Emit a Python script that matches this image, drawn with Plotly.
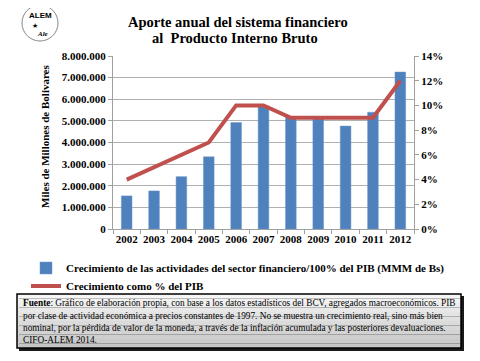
import plotly.graph_objects as go

years = ["2002", "2003", "2004", "2005", "2006", "2007", "2008", "2009", "2010", "2011", "2012"]
sector_values = [1530000, 1760000, 2420000, 3340000, 4920000, 5690000, 5190000, 5150000, 4760000, 5400000, 7260000]
pct_pib = [0.04, 0.05, 0.06, 0.07, 0.10, 0.10, 0.09, 0.09, 0.09, 0.09, 0.12]
left_ticks = [0, 1000000, 2000000, 3000000, 4000000, 5000000, 6000000, 7000000, 8000000]
left_tick_labels = ["0", "1.000.000", "2.000.000", "3.000.000", "4.000.000", "5.000.000", "6.000.000", "7.000.000", "8.000.000"]
right_ticks = [0, 0.02, 0.04, 0.06, 0.08, 0.10, 0.12, 0.14]
right_tick_labels = ["0%", "2%", "4%", "6%", "8%", "10%", "12%", "14%"]
note_lines = [
    "<b>Fuente</b>: Gráfico de elaboración propia, con base a los datos estadísticos del BCV, agregados macroeconómicos. PIB",
    "por clase de actividad económica a precios constantes de 1997. No se muestra un crecimiento real, sino más bien",
    "nominal, por la pérdida de valor de la moneda, a través de la inflación acumulada y las posteriores devaluaciones.",
    "CIFO-ALEM 2014.",
]

# page body has an 8px margin; lay out in reference pixels and shift by it
OFF = 8
W, H = 480 - OFF, 361 - OFF
REF_L, REF_R, REF_T, REF_B = 113, 414, 56, 229
L, T = REF_L - OFF, REF_T - OFF
R, B = W - (REF_R - OFF), H - (REF_B - OFF)
PW, PH = W - L - R, H - T - B

def px(x):
    return (x - REF_L) / PW

def py(y):
    return (REF_B - y) / PH

def cx(x):
    return (x - OFF) / W

def cy(y):
    return 1 - (y - OFF) / H

SERIF = "Times New Roman"
BOLD11 = dict(family=SERIF, size=11, color="black", weight="bold")

fig = go.Figure()
fig.add_trace(go.Bar(
    x=years, y=sector_values,
    name="Crecimiento de las actividades del sector financiero/100% del PIB (MMM de Bs)",
    marker=dict(color="#4f81bd", line=dict(color="#6b98cf", width=0.5)),
    yaxis="y", legend="legend",
))
fig.add_trace(go.Scatter(
    x=years, y=pct_pib, mode="lines",
    name="Crecimiento como % del PIB",
    line=dict(color="#c0504d", width=4),
    yaxis="y2", legend="legend2",
))

legend_common = dict(
    xref="container", yref="container", xanchor="left", yanchor="middle",
    orientation="v", itemwidth=30, font=BOLD11, bgcolor="rgba(0,0,0,0)",
)

fig.update_layout(
    width=W, height=H,
    margin=dict(l=L, r=R, t=T, b=B, pad=0, autoexpand=False),
    paper_bgcolor="white", plot_bgcolor="white",
    bargap=0.61,
    font=dict(family=SERIF, size=11, color="black"),
    showlegend=True,
    legend=dict(x=cx(26), y=cy(268), **legend_common),
    legend2=dict(x=cx(26), y=cy(286), **legend_common),
    xaxis=dict(
        type="category", showgrid=False, showline=True, linecolor="#a0a0a0", linewidth=1,
        ticks="outside", ticklen=4, tickcolor="#a0a0a0", tickson="boundaries",
        tickfont=BOLD11, tickangle=0, automargin=False,
    ),
    yaxis=dict(
        range=[0, 8000000], tickvals=left_ticks, ticktext=left_tick_labels,
        showgrid=True, gridcolor="#b0b0b0", gridwidth=1,
        showline=True, linecolor="#a0a0a0", ticks="outside", ticklen=4, tickcolor="#a0a0a0",
        tickfont=BOLD11, zeroline=False, automargin=False,
    ),
    yaxis2=dict(
        range=[0, 0.14], tickvals=right_ticks, ticktext=right_tick_labels,
        overlaying="y", side="right", showgrid=False,
        showline=True, linecolor="#a0a0a0", ticks="outside", ticklen=4, tickcolor="#a0a0a0",
        tickfont=BOLD11, zeroline=False, automargin=False,
    ),
)

annotations = [
    dict(text="Aporte anual del sistema financiero", x=px(238), y=py(22),
         font=dict(family=SERIF, size=14.5, weight="bold")),
    dict(text="al  Producto Interno Bruto", x=px(235), y=py(38),
         font=dict(family=SERIF, size=14.5, weight="bold")),
    dict(text="Miles de Millones de Bolivares", x=px(45), y=py(136), textangle=-90,
         font=dict(family=SERIF, size=11, weight="bold")),
    dict(text="ALEM", x=px(40), y=py(16), font=dict(family="Arial", size=8, weight="bold")),
    dict(text="★", x=px(35), y=py(26), font=dict(family="DejaVu Sans", size=7)),
    dict(text="<i>Ale</i>", x=px(42), y=py(34), font=dict(family=SERIF, size=7, weight="bold")),
]
for a in annotations:
    a.update(xref="paper", yref="paper", showarrow=False, xanchor="center", yanchor="middle")

note_y = [303, 315.5, 328, 340]
for line, yy in zip(note_lines, note_y):
    annotations.append(dict(text=line, xref="paper", yref="paper", x=px(21), y=py(yy),
                            xanchor="left", yanchor="middle", align="left", showarrow=False,
                            font=dict(family=SERIF, size=9.3, color="black")))
fig.update_layout(annotations=annotations)

shapes = []
shapes.append(dict(type="circle", xref="paper", yref="paper", x0=px(22), x1=px(58), y0=py(41), y1=py(5),
                   line=dict(color="#888888", width=1)))
shapes.append(dict(type="rect", xref="paper", yref="paper", x0=px(19), x1=px(464), y0=py(351), y1=py(296),
                   fillcolor="#1a1a1a", line=dict(width=0), layer="above"))
x0b, x1b, y0b, y1b = 17, 461, 294, 348
n = 12
for i in range(n):
    t = i / (n - 1)
    g = int(246 - 48 * t)
    ya = y0b + (y1b - y0b) * i / n
    yb = y0b + (y1b - y0b) * (i + 1) / n
    shapes.append(dict(type="rect", xref="paper", yref="paper", x0=px(x0b), x1=px(x1b), y0=py(yb), y1=py(ya),
                       fillcolor=f"rgb({g},{g},{g})", line=dict(width=0), layer="above"))
shapes.append(dict(type="rect", xref="paper", yref="paper", x0=px(x0b), x1=px(x1b), y0=py(y1b), y1=py(y0b),
                   fillcolor="rgba(0,0,0,0)", line=dict(color="black", width=1.5), layer="above"))
fig.update_layout(shapes=shapes)

fig.write_html("out.html")
